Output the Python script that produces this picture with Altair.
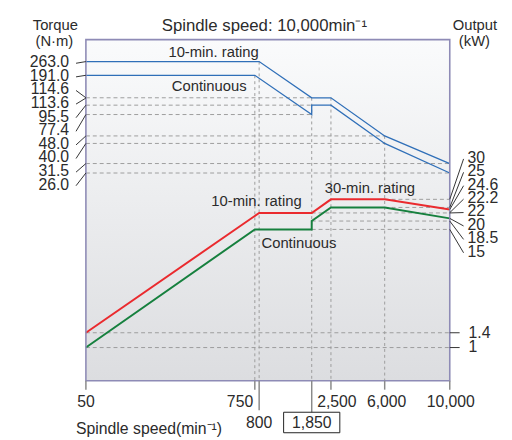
import altair as alt
import pandas as pd

# ---------------- data ----------------
speed_breaks = [50, 750, 800, 1850, 2500, 6000, 10000]

torque_10min_speed = [50, 800, 1850, 2500, 6000, 10000]
torque_10min = [263.0, 263.0, 114.6, 114.6, 48.0, 31.5]
torque_cont_speed = [50, 750, 1850, 1850, 2500, 6000, 10000]
torque_cont = [191.0, 191.0, 77.4, 95.5, 95.5, 40.0, 26.0]

output_10min_speed = [50, 800, 1850, 2500, 6000, 10000]
output_10min = [1.4, 22.0, 22.0, 30.0, 30.0, 24.6]
output_cont_speed = [50, 750, 1850, 1850, 2500, 6000, 10000]
output_cont = [1.0, 15.0, 15.0, 18.5, 25.0, 25.0, 20.0]

torque_labels = ["263.0", "191.0", "114.6", "113.6", "95.5", "77.4", "48.0", "40.0", "31.5", "26.0"]
torque_label_values = [263.0, 191.0, 114.6, 113.6, 95.5, 77.4, 48.0, 40.0, 31.5, 26.0]
output_labels = ["30", "25", "24.6", "22.2", "22", "20", "18.5", "15"]
output_label_values = [30.0, 25.0, 24.6, 22.2, 22.0, 20.0, 18.5, 15.0]
output_low_labels = ["1.4", "1"]
output_low_values = [1.4, 1.0]

# dashed guides: (value, speed where the guide ends / starts)
torque_guides = [(114.6, 1850), (95.5, 1850), (77.4, 1850), (48.0, 6000), (40.0, 6000), (31.5, 10000), (26.0, 10000)]
output_guides = [(30.0, 6000), (25.0, 6000), (22.0, 1850), (18.5, 1850), (15.0, 1850)]
vertical_guides = [(750, 191.0), (800, 263.0), (1850, 114.6), (2500, 114.6), (6000, 48.0)]

x_row1 = [(50, "50", 0), (750, "750", -15), (2500, "2,500", 6), (6000, "6,000", 2), (10000, "10,000", 1)]
x_row2 = [(800, "800", 0), (1850, "1,850", 0)]

# ---------------- layout (schematic scales) ----------------
W, H = 369, 346
speed_px = [0, 171.3, 175.7, 229.0, 248.5, 303.0, 369.0]
torque_dom = [26.0, 31.5, 40.0, 48.0, 77.4, 95.5, 113.6, 114.6, 191.0, 263.0]
torque_px = [135.3, 125.7, 105.3, 97.7, 76.0, 66.5, 59.3, 59.0, 36.2, 22.3]
output_dom = [1.0, 1.4, 15.0, 18.5, 20.0, 22.0, 24.6, 25.0, 30.0]
output_px = [312.3, 297.3, 192.5, 184.0, 181.3, 175.8, 172.3, 170.2, 162.0]

xs = alt.Scale(domain=speed_breaks, range=speed_px, zero=False, nice=False)
ts = alt.Scale(domain=torque_dom, range=torque_px, zero=False, nice=False)
ps = alt.Scale(domain=output_dom, range=output_px, zero=False, nice=False)

FONT = "Liberation Sans"
TXT = "#2b2b2b"
GRID = "#9c9c9c"
BLUE = "#2f6fb8"
RED = "#ea2a2e"
GREEN = "#16803e"
one = pd.DataFrame({"a": [0]})

layers = []

# background gradient
layers.append(
    alt.Chart(one).mark_rect(
        fill=alt.Gradient(
            gradient="linear",
            stops=[alt.GradientStop(color="#fafbfc", offset=0),
                   alt.GradientStop(color="#dcdde0", offset=1)],
            x1=0, x2=0, y1=0, y2=1)
    ).encode(x=alt.value(0), x2=alt.value(W), y=alt.value(0), y2=alt.value(H))
)

# torque horizontal dashed guides
tg = pd.DataFrame({"v": [g[0] for g in torque_guides], "s1": [50] * len(torque_guides),
                   "s2": [g[1] for g in torque_guides]})
layers.append(
    alt.Chart(tg).mark_rule(color=GRID, strokeDash=[4, 3], strokeWidth=1).encode(
        x=alt.X("s1:Q", scale=xs, axis=None), x2="s2:Q",
        y=alt.Y("v:Q", scale=ts, axis=None))
)
# output horizontal dashed guides
pg = pd.DataFrame({"v": [g[0] for g in output_guides] + output_low_values,
                   "s1": [g[1] for g in output_guides] + [50, 50],
                   "s2": [10000] * (len(output_guides) + 2)})
layers.append(
    alt.Chart(pg).mark_rule(color=GRID, strokeDash=[4, 3], strokeWidth=1).encode(
        x=alt.X("s1:Q", scale=xs, axis=None), x2="s2:Q",
        y=alt.Y("v:Q", scale=ps, axis=None))
)
# vertical dashed guides
vg = pd.DataFrame({"s": [g[0] for g in vertical_guides], "v": [g[1] for g in vertical_guides]})
layers.append(
    alt.Chart(vg).mark_rule(color=GRID, strokeDash=[3, 3], strokeWidth=1).encode(
        x=alt.X("s:Q", scale=xs, axis=None),
        y=alt.Y("v:Q", scale=ts, axis=None), y2=alt.value(H))
)


def curve(speeds, vals, scale, color, width):
    df = pd.DataFrame({"speed": speeds, "v": vals, "i": list(range(len(speeds)))})
    return alt.Chart(df).mark_line(color=color, strokeWidth=width, strokeJoin="miter").encode(
        x=alt.X("speed:Q", scale=xs, axis=None),
        y=alt.Y("v:Q", scale=scale, axis=None),
        order="i:Q")


layers.append(curve(torque_10min_speed, torque_10min, ts, BLUE, 1.3))
layers.append(curve(torque_cont_speed, torque_cont, ts, BLUE, 1.3))
layers.append(curve(output_10min_speed, output_10min, ps, RED, 2))
layers.append(curve(output_cont_speed, output_cont, ps, GREEN, 2))

# border
layers.append(
    alt.Chart(one).mark_rect(fill="transparent", stroke="#8e8bb6", strokeWidth=1.6).encode(
        x=alt.value(0), x2=alt.value(W), y=alt.value(0), y2=alt.value(H))
)

# ticks below the x axis
tick_len = [9, 9, 30, 32, 9, 9, 9]
for s, ln in zip(speed_breaks, tick_len):
    layers.append(
        alt.Chart(pd.DataFrame({"s": [s]})).mark_rule(color="#8a8a8a", strokeWidth=1.5).encode(
            x=alt.X("s:Q", scale=xs, axis=None), y=alt.value(H), y2=alt.value(H + ln))
    )

# x labels
for s, lab, dx in x_row1:
    layers.append(
        alt.Chart(pd.DataFrame({"s": [s]})).mark_text(
            text=lab, dx=dx, font=FONT, fontSize=16, color=TXT, baseline="middle", align="center"
        ).encode(x=alt.X("s:Q", scale=xs, axis=None), y=alt.value(368))
    )
for s, lab, dx in x_row2:
    layers.append(
        alt.Chart(pd.DataFrame({"s": [s]})).mark_text(
            text=lab, dx=dx, font=FONT, fontSize=16, color=TXT, baseline="middle", align="center"
        ).encode(x=alt.X("s:Q", scale=xs, axis=None), y=alt.value(388.5))
    )
# box around 1,850
layers.append(
    alt.Chart(pd.DataFrame({"s": [1850]})).mark_point(
        shape="M-1,-0.365L1,-0.365L1,0.365L-1,0.365Z", size=3249, filled=False,
        stroke="#222222", strokeWidth=1, opacity=1
    ).encode(x=alt.X("s:Q", scale=xs, axis=None), y=alt.value(388.3))
)

# left torque labels + leaders
for i, (lab, v) in enumerate(zip(torque_labels, torque_label_values)):
    ly = 23 + i * 13.8
    layers.append(
        alt.Chart(one).mark_text(text=lab, font=FONT, fontSize=16, color=TXT,
                                 align="right", baseline="middle").encode(
            x=alt.value(-17), y=alt.value(ly))
    )
    layers.append(
        alt.Chart(pd.DataFrame({"v": [v]})).mark_rule(color="#333333", strokeWidth=1).encode(
            x=alt.value(0), x2=alt.value(-10),
            y=alt.Y("v:Q", scale=ts, axis=None), y2=alt.value(ly + 1))
    )

# right output labels + leaders
for i, (lab, v) in enumerate(zip(output_labels, output_label_values)):
    ly = 120 + i * 13.6
    layers.append(
        alt.Chart(one).mark_text(text=lab, font=FONT, fontSize=16, color=TXT,
                                 align="left", baseline="middle").encode(
            x=alt.value(387), y=alt.value(ly))
    )
    layers.append(
        alt.Chart(pd.DataFrame({"v": [v]})).mark_rule(color="#333333", strokeWidth=1).encode(
            x=alt.value(W), x2=alt.value(383),
            y=alt.Y("v:Q", scale=ps, axis=None), y2=alt.value(ly + 1))
    )

# low output labels with ticks
low = pd.DataFrame({"v": output_low_values, "lab": output_low_labels})
layers.append(
    alt.Chart(low).mark_rule(color="#333333", strokeWidth=1).encode(
        x=alt.value(W), x2=alt.value(W + 10), y=alt.Y("v:Q", scale=ps, axis=None))
)
layers.append(
    alt.Chart(low).mark_text(font=FONT, fontSize=16, color=TXT, align="left", baseline="middle").encode(
        x=alt.value(388), y=alt.Y("v:Q", scale=ps, axis=None), text="lab:N")
)


def label(txt, px, py, size=15, align="center"):
    return alt.Chart(one).mark_text(text=txt, font=FONT, fontSize=size, color=TXT,
                                    align=align, baseline="middle").encode(
        x=alt.value(px), y=alt.value(py))


layers += [
    label("10-min. rating", 129.5, 13),
    label("Continuous", 125, 47),
    label("10-min. rating", 173, 164),
    label("Continuous", 216, 206),
    label("30-min. rating", 288, 150.5),
    label("Spindle speed: 10,000min⁻¹", 181, -13.5, 17),
    label("Torque", -31, -14.5, 15),
    label("(N·m)", -32, 1.5, 15),
    label("Output", 394.5, -14.5, 15),
    label("(kW)", 394, 1.5, 15),
    label("Spindle speed(min⁻¹)", -10, 395, 16, "left"),
]

chart = alt.layer(*layers).resolve_scale(x="independent", y="independent").properties(
    width=W, height=H,
    padding={"left": 79, "top": 29, "right": 55, "bottom": 56},
    autosize="none",
    background="white",
).configure_view(strokeWidth=0)

chart.save("out.html", embed_options={"renderer": "svg", "actions": False})
